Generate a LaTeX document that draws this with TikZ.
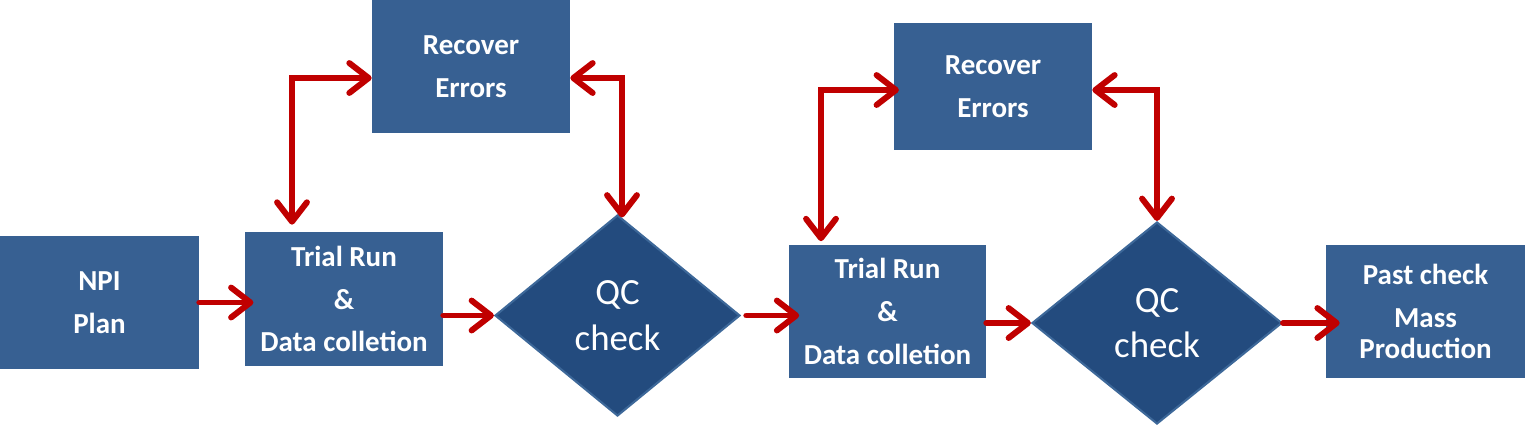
\documentclass[tikz,border=0pt]{standalone}
\usepackage{fontspec}
\setmainfont{Carlito}
\usetikzlibrary{arrows.meta,shapes.geometric}
\definecolor{boxblue}{HTML}{376092}
\definecolor{qcblue}{HTML}{234B7E}
\definecolor{qcedge}{HTML}{3D6899}
\definecolor{flowred}{HTML}{C00000}
\tikzset{
  stepbox/.style={fill=boxblue, text=white, inner sep=0pt, align=center,
    font=\bfseries\fontsize{16.5}{24.4}\selectfont},
  qcbox/.style={diamond, fill=qcblue, draw=qcedge, line width=1.2pt, text=white,
    inner sep=0pt, align=center, font=\fontsize{21}{26}\selectfont},
  link/.style={draw=flowred, line width=3.4pt, line cap=round,
    arrows={-Straight Barb[length=11pt,width=17pt,line cap=round,round]}},
  twoway/.style={link, arrows={Straight Barb[length=11pt,width=17pt,line cap=round,round]-Straight Barb[length=11pt,width=17pt,line cap=round,round]}}
}
\begin{document}
\begin{tikzpicture}[x=0.02cm,y=-0.02cm]
		%%%%% frame %%%%%
		\useasboundingbox (0,0) rectangle (1525,424);
		
		%%%%% boxes %%%%%
		\node[stepbox, minimum width=199*0.02cm, minimum height=133*0.02cm] (npi) at (99.5,302.5) {NPI\\Plan};
		\node[stepbox, minimum width=198*0.02cm, minimum height=134*0.02cm] (trial1) at (344,299) {Trial Run\\\&\\Data colletion};
		\node[stepbox, minimum width=198*0.02cm, minimum height=133*0.02cm] (rec1) at (471,66.5) {Recover\\Errors};
		\node[qcbox, minimum width=245*0.02cm, minimum height=201*0.02cm] (qc1) at (617.5,315.5) {QC\\check};
		
		\node[stepbox, minimum width=197*0.02cm, minimum height=133*0.02cm] (trial2) at (887.5,311.5) {Trial Run\\\&\\Data colletion};
		\node[stepbox, minimum width=198*0.02cm, minimum height=127*0.02cm] (rec2) at (993,86.5) {Recover\\Errors};
		\node[qcbox, minimum width=250*0.02cm, minimum height=202*0.02cm] (qc2) at (1157,323) {QC\\check};
		\node[stepbox, minimum width=199*0.02cm, minimum height=133*0.02cm] (past) at (1425.5,311.5) {Past check\\Mass\\[-6.8pt]Production};
		
		%%%%% corners of the loops %%%%%
		\coordinate (c1) at (292,78);
		\coordinate (c2) at (622,78);
		\coordinate (c3) at (821,90);
		\coordinate (c4) at (1157,90);
		
		%%%%% main flow %%%%%
		\draw[link, shorten >=-5pt] (npi.east) -- (npi.east -| trial1.west);
		\draw[link] (trial1.east |- qc1.west) -- (qc1.west);
		\draw[link, shorten <=3pt, shorten >=-6pt] (qc1.east) -- (qc1.east -| trial2.west);
		\draw[link] (trial2.east |- qc2.west) -- (qc2.west);
		\draw[link, shorten >=-8pt] (qc2.east) -- (qc2.east -| past.west);
		
		%%%%% loops %%%%%
		\draw[twoway, shorten <=4pt] (c1 |- trial1.north) -- (c1) -- (c1 -| rec1.west);
		\draw[twoway, shorten >=-2pt] (c2 -| rec1.east) -- (c2) -- (c2 |- qc1.north);
		\draw[twoway, shorten <=2pt, shorten >=-3pt] (c3 |- trial2.north) -- (c3) -- (c3 -| rec2.west);
		\draw[twoway] (c4 -| rec2.east) -- (c4) -- (c4 |- qc2.north);
		
	\end{tikzpicture}
\end{document}
